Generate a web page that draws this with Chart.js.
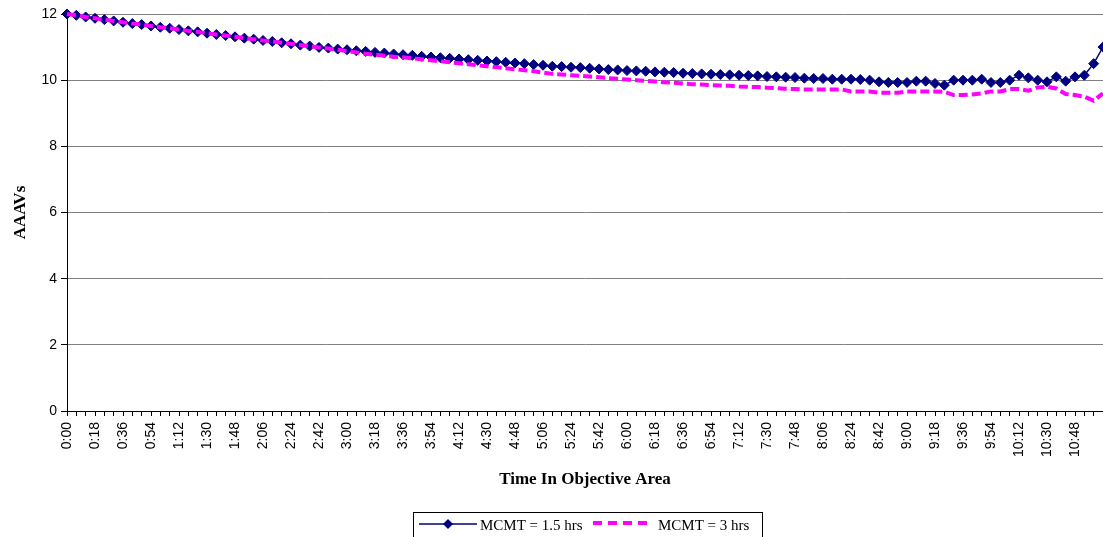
<!DOCTYPE html>
<html>
<head>
<meta charset="utf-8">
<script src="https://cdn.jsdelivr.net/npm/chart.js@4.4.1/dist/chart.umd.min.js"></script>
<style>
body{margin:0;background:#fff;}
</style>
</head>
<body>
<canvas id="line-chart" width="1103" height="537"></canvas>
<script>
// categories : every 6 minutes
var timeLabels = [
	'0:00','0:06','0:12','0:18','0:24','0:30','0:36','0:42','0:48','0:54',
	'1:00','1:06','1:12','1:18','1:24','1:30','1:36','1:42','1:48','1:54',
	'2:00','2:06','2:12','2:18','2:24','2:30','2:36','2:42','2:48','2:54',
	'3:00','3:06','3:12','3:18','3:24','3:30','3:36','3:42','3:48','3:54',
	'4:00','4:06','4:12','4:18','4:24','4:30','4:36','4:42','4:48','4:54',
	'5:00','5:06','5:12','5:18','5:24','5:30','5:36','5:42','5:48','5:54',
	'6:00','6:06','6:12','6:18','6:24','6:30','6:36','6:42','6:48','6:54',
	'7:00','7:06','7:12','7:18','7:24','7:30','7:36','7:42','7:48','7:54',
	'8:00','8:06','8:12','8:18','8:24','8:30','8:36','8:42','8:48','8:54',
	'9:00','9:06','9:12','9:18','9:24','9:30','9:36','9:42','9:48','9:54',
	'10:00','10:06','10:12','10:18','10:24','10:30','10:36','10:42','10:48','10:54',
	'11:00','11:06'
];

// MCMT = 1.5 hrs
var mcmt15 = [
	12.00,11.96,11.91,11.87,11.83,11.79,11.75,11.71,11.68,11.64,
	11.60,11.57,11.53,11.49,11.46,11.42,11.38,11.35,11.31,11.27,
	11.24,11.20,11.17,11.13,11.10,11.06,11.03,10.99,10.97,10.94,
	10.92,10.89,10.87,10.84,10.82,10.79,10.77,10.75,10.72,10.70,
	10.68,10.66,10.64,10.62,10.60,10.58,10.56,10.54,10.52,10.50,
	10.47,10.45,10.42,10.41,10.39,10.38,10.36,10.34,10.32,10.31,
	10.29,10.28,10.27,10.25,10.24,10.23,10.21,10.20,10.19,10.18,
	10.17,10.16,10.15,10.14,10.13,10.11,10.10,10.09,10.08,10.06,
	10.05,10.05,10.03,10.03,10.03,10.02,10.00,9.95,9.93,9.93,
	9.93,9.97,9.97,9.90,9.85,10.00,10.00,10.00,10.03,9.93,
	9.93,10.00,10.15,10.07,10.00,9.95,10.10,9.97,10.10,10.15,
	10.50,11.00
];

// MCMT = 3 hrs
var mcmt3 = [
	12.00,11.96,11.91,11.87,11.83,11.79,11.75,11.71,11.68,11.64,
	11.60,11.57,11.53,11.49,11.46,11.42,11.38,11.35,11.31,11.27,
	11.24,11.20,11.17,11.13,11.10,11.06,11.03,10.99,10.96,10.92,
	10.88,10.84,10.80,10.77,10.74,10.71,10.69,10.66,10.63,10.60,
	10.57,10.54,10.51,10.48,10.45,10.42,10.39,10.36,10.33,10.30,
	10.27,10.23,10.19,10.17,10.15,10.13,10.11,10.09,10.06,10.04,
	10.02,10.00,9.98,9.96,9.94,9.92,9.90,9.88,9.87,9.85,
	9.84,9.83,9.81,9.80,9.79,9.77,9.76,9.74,9.73,9.72,
	9.72,9.72,9.72,9.72,9.66,9.66,9.66,9.62,9.62,9.62,
	9.66,9.66,9.66,9.66,9.65,9.55,9.55,9.57,9.60,9.66,
	9.66,9.73,9.73,9.68,9.78,9.80,9.75,9.58,9.55,9.50,
	9.38,9.60
];

var yTicks = [0, 2, 4, 6, 8, 10, 12];

// legend in a box, drawn like the original
var boxLegend = {
	id: 'boxLegend',
	afterDraw: function(chart){
		var ctx = chart.ctx;
		var ds = chart.data.datasets;
		var y = 524;
		ctx.save();
		ctx.strokeStyle = '#000';
		ctx.lineWidth = 1;
		ctx.strokeRect(413.5, 512.5, 349, 30);

		ctx.strokeStyle = ds[0].borderColor;
		ctx.lineWidth = 1.5;
		ctx.beginPath();
		ctx.moveTo(419, y);
		ctx.lineTo(477, y);
		ctx.stroke();
		ctx.fillStyle = ds[0].borderColor;
		ctx.beginPath();
		ctx.moveTo(448, y - 5);
		ctx.lineTo(453, y);
		ctx.lineTo(448, y + 5);
		ctx.lineTo(443, y);
		ctx.closePath();
		ctx.fill();

		ctx.strokeStyle = ds[1].borderColor;
		ctx.lineWidth = 4;
		ctx.setLineDash([9, 6]);
		ctx.beginPath();
		ctx.moveTo(593, y - 1);
		ctx.lineTo(650, y - 1);
		ctx.stroke();
		ctx.setLineDash([]);

		ctx.fillStyle = '#000';
		ctx.font = '15px "Liberation Serif", "Times New Roman", serif';
		ctx.textBaseline = 'middle';
		ctx.fillText(ds[0].label, 480, 526);
		ctx.fillText(ds[1].label, 658, 526);
		ctx.restore();
	}
};

new Chart(document.getElementById('line-chart'), {
	type: 'line',
	data: {
		labels: timeLabels,
		datasets: [
			{
				label: 'MCMT = 1.5 hrs',
				data: mcmt15,
				borderColor: '#000080',
				backgroundColor: '#000080',
				borderWidth: 1.5,
				pointStyle: 'rectRot',
				pointRadius: 5,
				pointBorderWidth: 1,
				tension: 0,
				fill: false,
				clip: false,
				order: 2
			},
			{
				label: 'MCMT = 3 hrs',
				data: mcmt3,
				borderColor: '#FF00FF',
				backgroundColor: '#FF00FF',
				borderWidth: 4,
				borderDash: [9, 4],
				pointRadius: 0,
				tension: 0,
				fill: false,
				clip: false,
				order: 1
			}
		]
	},
	options: {
		responsive: false,
		animation: false,
		devicePixelRatio: 1,
		layout: { autoPadding: false, padding: { left: 0, right: 0, top: 14, bottom: 0 } },
		plugins: {
			legend: { display: false },
			tooltip: { enabled: false }
		},
		scales: {
			x: {
				offset: false,
				grid: { drawOnChartArea: false, tickColor: '#000', tickLength: 5 },
				border: { color: '#000', width: 1 },
				ticks: {
					autoSkip: false,
					maxRotation: 90,
					minRotation: 90,
					padding: 6,
					color: '#000',
					font: { family: '"Liberation Sans", Arial, sans-serif', size: 14 },
					callback: function(v, i){
						return (i % 3 === 0 && i <= 108) ? timeLabels[i] : '';
					}
				},
				title: {
					display: true,
					text: 'Time In Objective Area',
					color: '#000',
					font: { family: '"Liberation Serif", "Times New Roman", serif', size: 17, weight: 'bold' },
					padding: { top: 0, bottom: 47 }
				},
				afterFit: function(scale){
					scale.height = 126;
					scale.paddingLeft = 0;
					scale.paddingRight = 0;
				}
			},
			y: {
				min: 0,
				max: 12,
				afterBuildTicks: function(scale){
					scale.ticks = yTicks.map(function(v){ return { value: v }; });
				},
				grid: { color: '#808080', tickColor: '#000', tickLength: 6 },
				border: { color: '#000', width: 1 },
				ticks: {
					padding: 4,
					color: '#000',
					font: { family: '"Liberation Sans", Arial, sans-serif', size: 14 }
				},
				title: {
					display: true,
					text: 'AAAVs',
					color: '#000',
					font: { family: '"Liberation Serif", "Times New Roman", serif', size: 17, weight: 'bold' },
					padding: { top: 10, bottom: 0 }
				},
				afterFit: function(scale){
					scale.width = 67;
					scale.paddingTop = 0;
					scale.paddingBottom = 0;
				}
			}
		}
	},
	plugins: [boxLegend]
});
</script>
</body>
</html>
